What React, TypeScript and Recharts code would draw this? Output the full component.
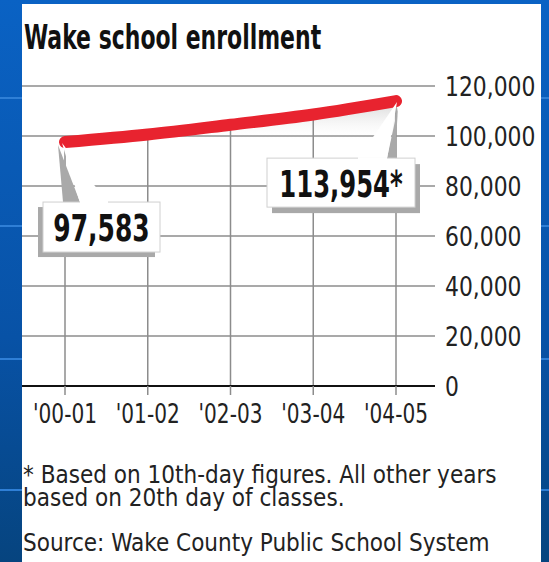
import React from 'react';
import {
  ComposedChart, Line, Area, XAxis, YAxis, CartesianGrid, ReferenceLine, LabelList,
} from 'recharts';

// school years and enrollment
const years = ["'00-01", "'01-02", "'02-03", "'03-04", "'04-05"];
const enrollment = [97583, 100600, 104500, 108600, 113954];
const valueNotes = ['', '', '', '', '*'];
const yTicks = [0, 20000, 40000, 60000, 80000, 100000, 120000];

const data = years.map((year, i) => ({ year, value: enrollment[i] }));

const FONT = '"DejaVu Sans Condensed", "DejaVu Sans", sans-serif';
const GRID = '#8c8c8c';

// condensed text: the reference face is narrower than anything installed
const NText = ({ x, y, sx, size, weight, anchor, dy, fill, children }: any) => (
  <text transform={`translate(${x},${y}) scale(${sx},1)`} textAnchor={anchor || 'start'}
    dy={dy} fontFamily={FONT} fontSize={size} fontWeight={weight || 'normal'} fill={fill || '#222'}>
    {children}
  </text>
);

const YTick = (props: any) => (
  <NText x={props.x} y={props.y} sx={0.9} size={27} dy="0.355em">
    {Number(props.payload.value).toLocaleString('en-US')}
  </NText>
);

const XTick = (props: any) => (
  <NText x={props.x} y={props.y} sx={0.86} size={26} anchor="middle" dy="0.71em">
    {props.payload.value}
  </NText>
);

const Callout = (props: any) => {
  const { x, y, index, value } = props;
  const last = data.length - 1;
  if (index !== 0 && index !== last) return null;
  const label = Number(value).toLocaleString('en-US') + valueNotes[index];

  if (index === 0) {
    const left = x - 22;
    const top = y + 60;
    const w = 117;
    const h = 50;
    return (
      <g>
        <rect x={left - 5} y={top + 5} width={w} height={h} fill="#a9a9a9" />
        <polygon points={`${x - 7},${y + 3} ${x - 2},${top} ${x + 15},${top}`} fill="#a9a9a9" />
        <polygon points={`${x - 3},${y + 1} ${x + 15},${top + 1} ${x + 43},${top + 1}`} fill="#fff" />
        <rect x={left} y={top} width={w} height={h} fill="#fff" stroke="#d0d0d0" />
        <rect x={x + 15} y={top - 1} width={28} height={3} fill="#fff" />
        <NText x={left + w / 2} y={top + 39} sx={0.75} size={37} weight="bold" anchor="middle" fill="#111">
          {label}
        </NText>
      </g>
    );
  }

  const left = x - 129;
  const top = y + 57;
  const w = 148;
  const h = 49;
  return (
    <g>
      <rect x={left + 5} y={top + 6} width={w} height={h} fill="#a9a9a9" />
      <polygon points={`${x + 2},${y + 6} ${x - 9},${top} ${x - 1},${top}`} fill="#a9a9a9" />
      <polygon points={`${x + 1},${y + 1} ${x - 38},${top + 1} ${x - 9},${top + 1}`} fill="#fff" />
      <rect x={left} y={top} width={w} height={h} fill="#fff" stroke="#d0d0d0" />
      <rect x={x - 38} y={top - 1} width={29} height={3} fill="#fff" />
      <NText x={left + w / 2} y={top + 39} sx={0.73} size={37} weight="bold" anchor="middle" fill="#111">
        {label}
      </NText>
    </g>
  );
};

export default function App() {
  const stripes = [97, 225, 358, 489];
  return (
    <div style={{
      position: 'absolute', left: 0, top: 0, width: 549, height: 562, overflow: 'hidden',
      background: 'linear-gradient(180deg, #0a62c4 0%, #0852a6 60%, #06447f 100%)',
    }}>
      {stripes.map((s) => (
        <div key={s} style={{ position: 'absolute', left: 0, top: s, width: 549, height: 2, background: '#2f7fd6' }} />
      ))}
      <div style={{ position: 'absolute', left: 22, top: 4, width: 519, height: 558, background: '#fff' }} />

      <div style={{ position: 'absolute', left: 0, top: 0 }}>
        <ComposedChart width={549} height={562} data={data}
          margin={{ top: 86, right: 0, bottom: 136, left: 22 }}>
          <defs>
            <linearGradient id="shade" x1="0" y1="0" x2="0" y2="1">
              <stop offset="0" stopColor="#8f8f8f" stopOpacity={0.6} />
              <stop offset="0.05" stopColor="#b5b5b5" stopOpacity={0.4} />
              <stop offset="0.14" stopColor="#ffffff" stopOpacity={0} />
            </linearGradient>
          </defs>
          <CartesianGrid vertical={false} stroke={GRID} strokeWidth={1.5} />
          <XAxis dataKey="year" scale="point" padding={{ left: 43, right: 39 }} interval={0}
            height={40} tickSize={9} tickMargin={10}
            tickLine={{ stroke: GRID, strokeWidth: 1.5 }}
            axisLine={{ stroke: '#111', strokeWidth: 2 }}
            tick={XTick} />
          <YAxis orientation="right" width={114} domain={[0, 120000]} ticks={yTicks}
            axisLine={false} tickLine={false} tickSize={0} tickMargin={10}
            tick={YTick} />
          <Area dataKey="value" type="monotone" fill="url(#shade)" stroke="none"
            isAnimationActive={false} />
          {data.map((d) => (
            <ReferenceLine key={d.year} segment={[{ x: d.year, y: 0 }, { x: d.year, y: d.value }]}
              stroke={GRID} strokeWidth={1.5} />
          ))}
          <Line dataKey="value" type="monotone" stroke="#e8232f" strokeWidth={12}
            strokeLinecap="round" dot={false} isAnimationActive={false}>
            <LabelList dataKey="value" content={Callout} />
          </Line>
        </ComposedChart>
      </div>

      <svg width={549} height={562} style={{ position: 'absolute', left: 0, top: 0, pointerEvents: 'none' }}>
        <NText x={24} y={49} sx={0.74} size={33} weight="bold" fill="#111">Wake school enrollment</NText>
        <NText x={23} y={483} sx={1} size={24}>* Based on 10th-day figures. All other years</NText>
        <NText x={23} y={506} sx={1} size={24}>based on 20th day of classes.</NText>
        <NText x={23} y={551} sx={1} size={24}>Source: Wake County Public School System</NText>
      </svg>
    </div>
  );
}
